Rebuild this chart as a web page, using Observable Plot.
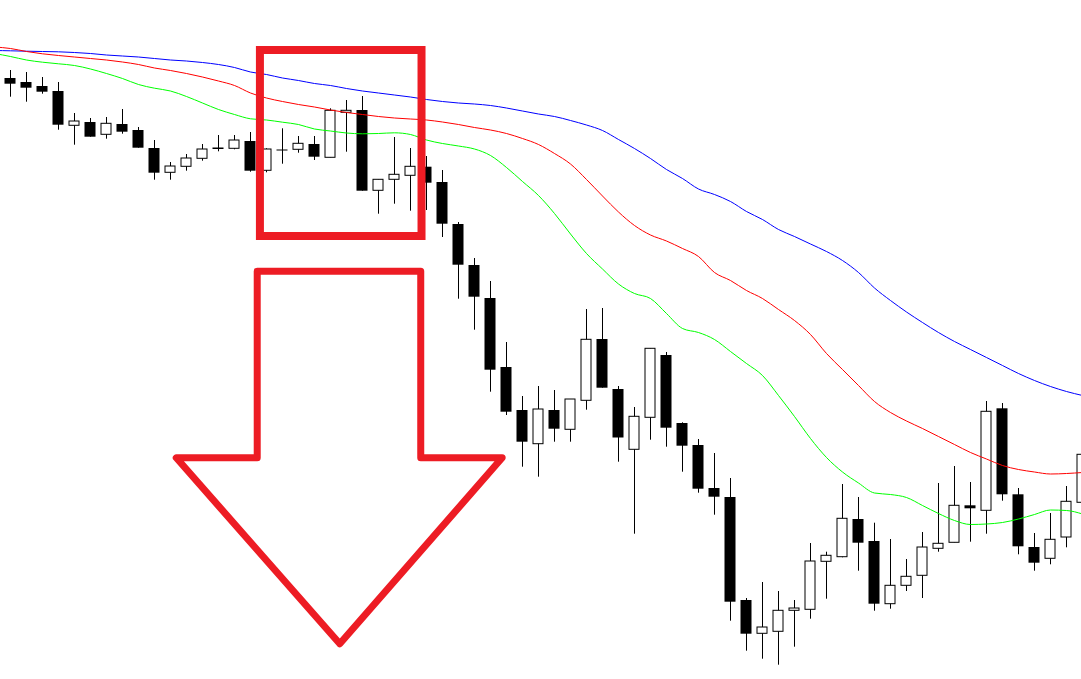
<!DOCTYPE html>
<html><head><meta charset="utf-8">
<script src="https://cdn.jsdelivr.net/npm/d3@7"></script>
<script src="https://cdn.jsdelivr.net/npm/@observablehq/plot@0.6"></script>
<style>html,body{margin:0;padding:0;background:#fff;overflow:hidden}#chart svg{display:block}</style>
</head><body><div id="chart"></div>
<script>
// Candle OHLC prices (index 0..67, left to right)
const opens  = [622,618,614,609,574.7,578,565.7,576,570,552,527.7,533.7,541.7,551.5,551.7,559,529.7,550.5,550.7,556,542.7,587.7,590,509.7,520.7,524.7,533.3,518,476,435,402,333,290,256.3,290,270.7,299.7,361,311,250.7,282.7,345,277,255,212,203,100,66.7,68.7,89.7,90.7,138.7,143.3,181,159,96.3,114.7,124.7,151.7,157.7,194.7,189.7,291.7,205.7,153,141.7,163,197.7];
const highs  = [630,628,623,618,587,582,583,591,573,560,538,546,556,565,565,568,551.7,571.7,564,564,591.7,600,604,520.7,563,552,544,530,478,442,419,358,304,314,310,301,391,392,314,293,351.7,348,277.7,261,247,222,102,118,109,100,157,148.3,216,203,177.3,161,141,168,217,234,218,299,297,212,167,187,214,250];
const lows   = [603.3,598.3,606.3,570.3,555.3,563.3,561.3,566.3,552.3,520.3,520.3,529.3,539.3,548.7,550.7,528.3,527.7,536.3,547.3,540,542.7,548.3,509.3,486.3,496.3,489.3,490,463,401.3,370.3,308.3,285,233.3,223.3,258.3,258.3,290.3,312.3,238.3,166.3,260.3,253.3,228.3,207.3,185.3,79.3,49.3,41.3,35.3,53.3,81.3,101.3,142.7,129.3,89.3,91.3,109,102,148.3,157.7,158.3,166.3,199.3,145.7,129.3,135.7,152.7,195];
const closes = [616.3,612.3,608.3,575.3,579,563.3,576.7,568.3,552.3,527.3,534,542,551,552,560,529.3,551,549.5,556.7,543.3,589.7,589.7,509.3,520.7,525.7,533.7,517.3,476.3,435.3,403.3,330.3,288.3,258.3,291,271.3,301,360.7,312.3,262.5,283.7,351.7,272.3,254.3,211.3,203.3,98.3,66.3,73,89.7,92,139,144.7,181.7,157.3,96.3,114.7,123.7,153,156.7,194.7,191.7,288.7,205.7,153.7,137.3,160.7,198.7,245.7];

// Moving averages, one value per candle index from -1 to 67
const maIndex = d3.range(-1, 68);
const maBlue  = [650,649.7,649.3,649,648.7,648,647,645.5,644.5,643.5,642,640.5,639.5,638,636,633,628.5,626,622.5,620,617,615,612,609.5,607.5,605.5,603.5,601,599,597.5,596.5,595,592.5,589.5,586.5,584,580,575.5,570,561,552,542,531,522,511.5,506,499,489,481,471,464,456.5,449,440,428,412.5,400,388.5,378,368,359,351,343,335,327,320,314,309,305];
const maRed   = [653.5,652,649,646.7,645,643.5,642,640.5,638.5,636,632.5,630,627,623.5,619.5,615,607.5,602.5,599,596,593.5,590.5,588,586,584,582.5,581.5,580.5,578.5,576,573,570.5,567,562,556,547,536.5,521,504.5,488.5,475,465.5,459.5,452,444,428,420,410,402,391,380,366,347,331,315,299,288,279.5,272,264,256,248,241.5,235,231,228.5,226.5,227,228];
const maGreen = [647,644,640.5,638.3,636.7,635,631.5,627,622,616,612.3,609.5,604,597.5,591,586,581.7,580.5,578.3,576,571.5,569.5,567.5,566.7,567,567.7,566,560.5,557,554.5,551.5,545,533,519,505,487,466.5,447,431.5,416.5,407,402,387,372,368,361,349,337,325,305,284,262,243,228.5,217.5,207.5,206,203,195,187,180,176,176.5,178,181.5,186,190.5,190,186.5];

// Annotations (candle index, price)
const boxX = [15.62, 25.72];
const boxY = [464, 650];
const arrowX = [15.42, 25.64, 25.64, 30.73, 20.58, 10.36, 15.42, 15.42];
const arrowY = [429.3, 429.3, 242.7, 242.7, 56.7, 242.7, 242.7, 429.3];

const candles = opens.map((o, i) => ({i, open: o, high: highs[i], low: lows[i], close: closes[i], up: closes[i] >= o}));
const ma = (vals) => maIndex.map((i, k) => ({i, v: vals[k]}));
const arrow = arrowX.map((x, k) => ({x, y: arrowY[k]}));
const RED = "#ed1c24";
const BLACK_HALF = 0.34375, WHITE_HALF = 0.3125;

const chart = Plot.plot({
  width: 1081, height: 679,
  margin: 0,
  x: {type: "linear", domain: [-0.625, 66.9375], axis: null},
  y: {domain: [21, 700], axis: null},
  marks: [
    Plot.ruleX(candles, {x: "i", y1: "low", y2: "high", stroke: "black", strokeWidth: 1, clip: true}),
    Plot.rect(candles.filter(d => !d.up), {x1: d => d.i - BLACK_HALF, x2: d => d.i + BLACK_HALF, y1: "open", y2: "close", fill: "black", clip: true}),
    Plot.rect(candles.filter(d => d.up), {x1: d => d.i - WHITE_HALF, x2: d => d.i + WHITE_HALF, y1: "open", y2: "close", fill: "white", stroke: "black", strokeWidth: 1, clip: true}),
    Plot.line(ma(maBlue), {x: "i", y: "v", stroke: "#0000ff", strokeWidth: 1, curve: "monotone-x", clip: true}),
    Plot.line(ma(maRed), {x: "i", y: "v", stroke: "#ff0000", strokeWidth: 1, curve: "monotone-x", clip: true}),
    Plot.line(ma(maGreen), {x: "i", y: "v", stroke: "#00ff00", strokeWidth: 1, curve: "monotone-x", clip: true}),
    Plot.rect([0], {x1: () => boxX[0], x2: () => boxX[1], y1: () => boxY[0], y2: () => boxY[1], fill: "none", stroke: RED, strokeWidth: 8}),
    Plot.line(arrow, {x: "x", y: "y", stroke: RED, strokeWidth: 7, strokeLinejoin: "round", strokeLinecap: "round"})
  ]
});
document.getElementById("chart").appendChild(chart);
</script>
</body></html>
